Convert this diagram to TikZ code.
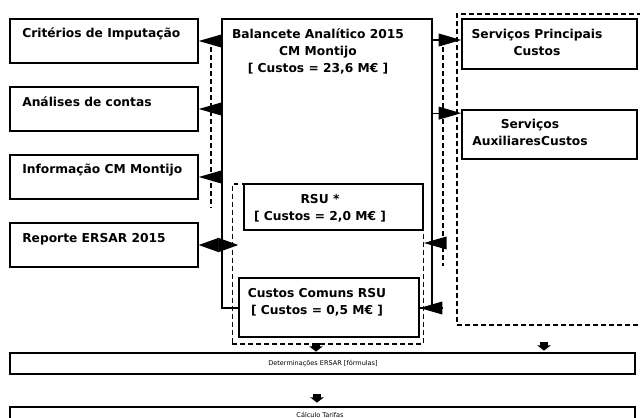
\documentclass[tikz,border=0pt]{standalone}
\usepackage{fontspec}
\setmainfont{DejaVu Sans}
\usetikzlibrary{arrows.meta}

\tikzset{
  box/.style={draw, line width=1pt, fill=white, inner sep=0pt},
  grpbox/.style={draw, line width=1pt, dash pattern=on 3.5pt off 2.5pt, inner sep=0pt},
  txt/.style={inner sep=0pt, font=\fontsize{9.2pt}{12.75pt}\selectfont\bfseries, align=center},
  smalltxt/.style={inner sep=0pt, font=\fontsize{4.9pt}{6pt}\selectfont},
  tip/.style={line width=1pt, -{Triangle[length=17pt,width=9.5pt]}},
  both/.style={line width=1pt, {Triangle[length=15pt,width=10.5pt]}-{Triangle[length=15pt,width=10.5pt]}},
  dline/.style={line width=1pt, dash pattern=on 3.5pt off 2.5pt},
  down/.style={line width=5.5pt, -{Triangle[length=4pt,width=10pt]}},
}

\begin{document}
\begin{tikzpicture}[x=0.75pt, y=-0.75pt]
  \useasboundingbox (0,0) rectangle (640,418);

  % big boxes and groups
  \node[box, minimum width=157.5pt, minimum height=216.75pt] (bal) at (327,163.5) {};
  \node[grpbox, minimum width=144.75pt, minimum height=233.25pt] (svc) at (553.5,169.5) {};
  \node[grpbox, minimum width=143.25pt, minimum height=120pt] (grp) at (327.75,264) {};

  % left column
  \node[box, minimum width=141pt, minimum height=33pt] (crit) at (104,41) {};
  \node[box, minimum width=141pt, minimum height=33pt] (anal) at (104,109) {};
  \node[box, minimum width=141pt, minimum height=33pt] (info) at (104,177) {};
  \node[box, minimum width=141pt, minimum height=33pt] (report) at (104,245) {};

  % inner boxes
  \node[box, minimum width=134.25pt, minimum height=34.5pt] (rsu) at (333.5,207) {};
  \node[box, minimum width=135pt, minimum height=44.25pt] (comuns) at (329,307.5) {};

  % right column
  \node[box, minimum width=131.25pt, minimum height=37.5pt] (servp) at (549.5,44) {};
  \node[box, minimum width=131.25pt, minimum height=36.75pt] (serva) at (549.5,134.5) {};

  % bottom bars
  \node[box, minimum width=468.75pt, minimum height=15.75pt] (determ) at (322.5,363.5) {};
  \node[box, minimum width=468.75pt, minimum height=17.25pt] (calc) at (322.5,418.5) {};

  % texts (base = last line)
  \node[txt, anchor=base west] (critT) at (22,37) {Critérios de Imputação};
  \node[txt, anchor=base west] (analT) at (22,106) {Análises de contas};
  \node[txt, anchor=base west] (infoT) at (22,173) {Informação CM Montijo};
  \node[txt, anchor=base west] (reportT) at (22,242) {Reporte ERSAR 2015};
  \node[txt, anchor=base] (balT) at (318,72) {Balancete Analítico 2015\\CM Montijo\\{[} Custos = 23,6 M€ ]};
  \node[txt, anchor=base] (servpT) at (537,55) {Serviços Principais\\Custos};
  \node[txt, anchor=base] (servaT) at (530,145) {Serviços\\AuxiliaresCustos};
  \node[txt, anchor=base] (rsuT) at (320,220) {RSU *\\{[} Custos = 2,0 M€ ]};
  \node[txt, anchor=base] (comunsT) at (317,314) {Custos Comuns RSU\\{[} Custos = 0,5 M€ ]};
  \node[smalltxt, anchor=base] (determT) at (323,365) {Determinações ERSAR [fórmulas]};
  \node[smalltxt, anchor=base] (calcT) at (320,417) {Cálculo Tarifas};

  % helper points
  \coordinate (ld1) at (211,47);
  \coordinate (ld2) at (211,208);
  \coordinate (rd1) at (443,47);
  \coordinate (rd2) at (443,266);
  \coordinate (rin1) at (443,243);
  \coordinate (rin2) at (443,308);
  \coordinate (sp) at ([yshift=3pt]servp.west);
  \coordinate (sa) at ([yshift=16pt]serva.west);
  \coordinate (dn1) at (316,343);
  \coordinate (dn2) at (544,342);
  \coordinate (dn3) at (317,394);

  % connectors
  \draw[tip] (crit.east -| bal.west) -- (crit.east);
  \draw[tip] (anal.east -| bal.west) -- (anal.east);
  \draw[tip] (info.east -| bal.west) -- (info.east);
  \draw[both] (report.east) -- (report.east -| comuns.west);
  \draw[tip] (sp -| bal.east) -- (sp);
  \draw[tip] (sa -| bal.east) -- (sa);
  \draw[tip] (rin1) -- (rin1 -| grp.east);
  \draw[tip] (rin2) -- (rin2 -| comuns.east);
  \draw[dline] (ld1) -- (ld2);
  \draw[dline] (rd1) -- (rd2);
  \draw[down] (dn1) -- ([yshift=-6.5pt]dn1);
  \draw[down] (dn2) -- ([yshift=-6.5pt]dn2);
  \draw[down] (dn3) -- ([yshift=-6.5pt]dn3);
\end{tikzpicture}
\end{document}
